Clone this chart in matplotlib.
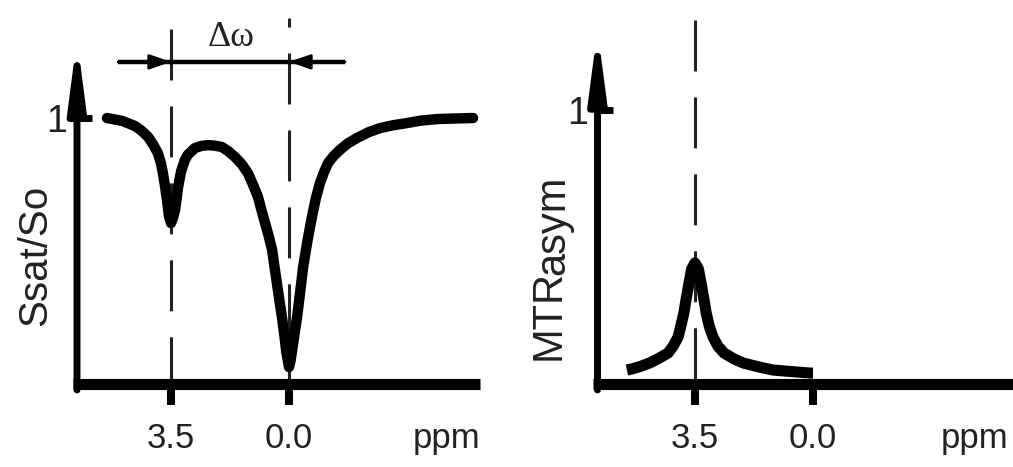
import matplotlib.pyplot as plt

plt.rcParams['font.family'] = ['Liberation Sans', 'DejaVu Sans']
plt.rcParams['lines.scale_dashes'] = False

# Z-spectrum (left panel)
z_ppm = [5.40, 4.95, 4.57, 4.40, 4.18, 4.03, 3.89, 3.80, 3.74, 3.68, 3.62, 3.56,
         3.50, 3.44, 3.38, 3.33, 3.29, 3.20, 3.09, 3.00, 2.79, 2.60, 2.40, 2.20,
         1.99, 1.80, 1.60, 1.40, 1.22, 1.07, 0.92, 0.82, 0.71, 0.60, 0.50, 0.43,
         0.36, 0.28, 0.21, 0.14, 0.08, 0.00, -0.05, -0.16, -0.24, -0.33, -0.42,
         -0.55, -0.68, -0.80, -0.92, -1.04, -1.16, -1.33, -1.51, -1.75, -2.02,
         -2.35, -2.70, -3.10, -3.50, -3.90, -4.39, -4.90, -5.46]
z_signal = [1.000, 0.989, 0.970, 0.955, 0.929, 0.900, 0.868, 0.830, 0.793, 0.745,
            0.692, 0.630, 0.605, 0.625, 0.654, 0.700, 0.741, 0.800, 0.842, 0.862,
            0.887, 0.895, 0.898, 0.896, 0.891, 0.875, 0.853, 0.826, 0.793, 0.750,
            0.703, 0.655, 0.605, 0.555, 0.504, 0.440, 0.380, 0.310, 0.252, 0.185,
            0.120, 0.064, 0.090, 0.185, 0.252, 0.345, 0.440, 0.540, 0.628, 0.700,
            0.756, 0.797, 0.831, 0.858, 0.880, 0.905, 0.925, 0.946, 0.962, 0.973,
            0.981, 0.990, 0.996, 0.998, 1.000]

# MTR asymmetry (right panel)
mtr_ppm = [5.52, 5.37, 5.10, 4.84, 4.60, 4.30, 4.15, 4.00, 3.92, 3.83, 3.77, 3.70,
           3.60, 3.50, 3.40, 3.30, 3.23, 3.17, 3.08, 2.97, 2.82, 2.64, 2.35, 2.08,
           1.60, 1.19, 0.60, 0.09, 0.00]
mtr_asym = [0.051, 0.055, 0.065, 0.077, 0.092, 0.113, 0.138, 0.172, 0.212, 0.260,
            0.305, 0.354, 0.420, 0.442, 0.420, 0.354, 0.305, 0.260, 0.212, 0.172,
            0.138, 0.113, 0.092, 0.077, 0.062, 0.051, 0.045, 0.040, 0.040]

cest_ppm = 3.5
water_ppm = 0.0
tick_ppm = [3.5, 0.0]
tick_labels = ['3.5', '0.0']

W, H = 1013, 467
fig = plt.figure(figsize=(W / 100, H / 100), dpi=100)

# axes placed in pixels: y axis, x axis line, top
ax1 = fig.add_axes([77 / W, (H - 384) / H, 403 / W, 374 / H])
ax1.set_xlim(6.289, -5.666)
ax1.set_ylim(0, 1.406)
ax2 = fig.add_axes([597.5 / W, (H - 384) / H, 415.5 / W, 374 / H])
ax2.set_xlim(6.393, -5.933)
ax2.set_ylim(0, 1.365)

dash = (36.7, 18.7)


def style_axes(ax, arrow_top, ppm_x):
    for s in ax.spines.values():
        s.set_visible(False)
    ax.patch.set_visible(False)
    # thick x axis
    ax.plot([-0.01, 1.0], [0, 0], transform=ax.get_yaxis_transform(), color='k',
            lw=8, solid_capstyle='butt', clip_on=False, zorder=4)
    # y axis with arrow head
    ax.annotate('', xy=(0, arrow_top), xytext=(0, -0.016), xycoords='axes fraction',
                arrowprops=dict(arrowstyle='-|>,head_length=1.9,head_width=0.25',
                                mutation_scale=20, lw=5, color='k',
                                shrinkA=0, shrinkB=0), zorder=4)
    ax.set_xticks(tick_ppm, tick_labels)
    ax.set_yticks([1], ['1'])
    ax.tick_params(axis='x', direction='out', length=15, width=5.8, pad=12,
                   labelsize=25, labelcolor='#222')
    ax.tick_params(axis='y', direction='in', length=11, width=5, pad=7,
                   labelsize=27, labelcolor='#222')
    ax.text(ppm_x, -0.171, 'ppm', transform=ax.transAxes, ha='right',
            va='baseline', fontsize=25, color='#222')


style_axes(ax1, 0.922, 1.0)
style_axes(ax2, 0.947, 0.988)

# left panel
ax1.plot([cest_ppm, cest_ppm], [1.335, 0], color='#222', lw=2.2,
         linestyle=(0, dash), zorder=2)
ax1.plot([water_ppm, water_ppm], [1.376, 0], color='#222', lw=2.2,
         linestyle=(30.2, dash), zorder=2)
ax1.plot(z_ppm, z_signal, color='k', lw=7.5, solid_joinstyle='round',
         solid_capstyle='round', zorder=3)

# delta omega marker
y_dw = 1.211
ax1.plot([5.07, -1.66], [y_dw, y_dw], color='k', lw=3.2, solid_capstyle='butt')
head = dict(arrowstyle='-|>,head_length=1.3,head_width=0.45', mutation_scale=10,
            lw=2, color='k', shrinkA=0, shrinkB=0)
ax1.annotate('', xy=(cest_ppm, y_dw), xytext=(5.07, y_dw), arrowprops=head)
ax1.annotate('', xy=(water_ppm, y_dw), xytext=(-1.66, y_dw), arrowprops=head)
ax1.text(1.72, 1.271, 'Δω', fontsize=26, family=['Liberation Serif', 'DejaVu Serif'],
         ha='center', va='baseline', color='#222')

ax1.text(-0.103, 0.345, 'Ssat/So', transform=ax1.transAxes, rotation=90,
         ha='center', va='center', fontsize=29, color='#222')

# right panel
ax2.plot([cest_ppm, cest_ppm], [1.328, 0], color='#222', lw=2.2,
         linestyle=(0, dash), zorder=2)
ax2.plot(mtr_ppm, mtr_asym, color='k', lw=8, solid_joinstyle='round',
         solid_capstyle='butt', zorder=3)

mtr = ax2.text(-0.118, 0.064, 'MTR', transform=ax2.transAxes, rotation=90,
               ha='center', va='bottom', fontsize=30, color='#222')
ax2.annotate('asym', xy=(0.5, 1), xycoords=mtr, xytext=(3.6, -4),
             textcoords='offset points', rotation=90, ha='center', va='bottom',
             fontsize=30, color='#222')

fig.savefig('out.png', dpi=100)
